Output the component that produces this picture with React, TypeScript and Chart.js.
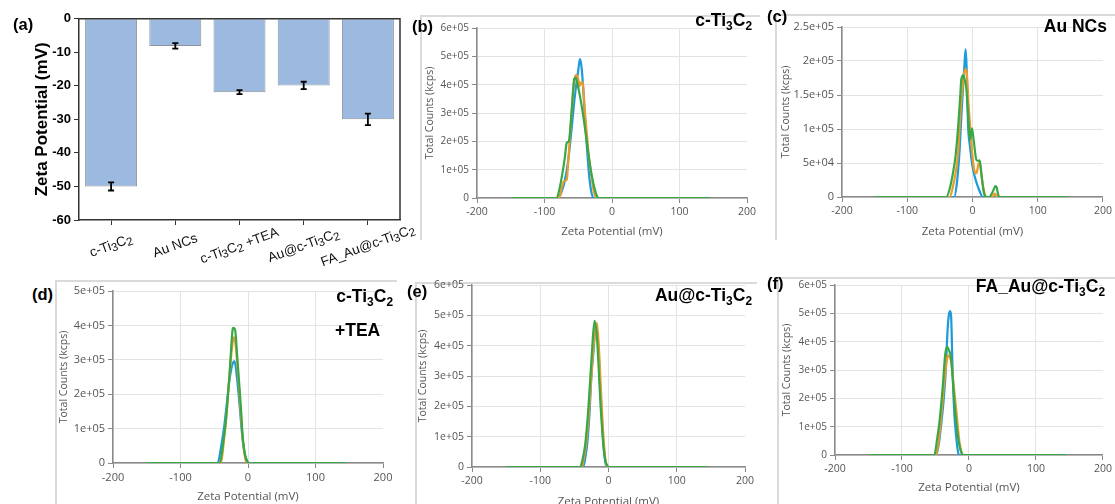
import React, { useEffect, useRef } from 'react';
import { Chart, registerables } from 'chart.js';

Chart.register(...registerables);

const ARIAL = '"Liberation Sans", Arial, Helvetica, sans-serif';
const UI = '"Open Sans", "Noto Sans", "DejaVu Sans", sans-serif';

// ---------------- (a) bar chart data ----------------
const barCategories = ['c-Ti3C2', 'Au NCs', 'c-Ti3C2 +TEA', 'Au@c-Ti3C2', 'FA_Au@c-Ti3C2'];
const barValues = [-50.0, -8.1, -21.9, -19.9, -30.0];
const barErrors = [1.2, 0.8, 0.6, 1.1, 1.7];
const barYMin = -60;
const barYMax = 0;
const barYStep = 10;

// ---------------- zeta distributions ----------------
const zetaMin = -200;
const zetaMax = 200;
const zetaStep = 100;

// (b) c-Ti3C2
const bBlueX = [-150, -80, -75, -70, -65, -60, -55, -50, -47.5, -45, -42.5, -40, -37.5, -35, -32.5, -30, -27.5, 145];
const bBlueY = [0, 0, 0.2e5, 0.6e5, 1.3e5, 2.4e5, 3.6e5, 4.5e5, 4.9e5, 4.6e5, 3.8e5, 2.8e5, 1.9e5, 1.1e5, 0.5e5, 0.15e5, 0, 0];
const bOrangeX = [-150, -78, -75, -71, -67, -65, -62, -59, -56, -53, -50, -48, -45, -43, -40, -37, -34, -30, -27, -23, 145];
const bOrangeY = [0, 0, 0.3e5, 0.6e5, 0.65e5, 1.2e5, 2.3e5, 3.3e5, 4.1e5, 4.35e5, 4.2e5, 3.95e5, 4.1e5, 4.0e5, 3.0e5, 2.2e5, 1.4e5, 0.7e5, 0.25e5, 0, 0];
const bGreenX = [-150, -82, -78, -74, -70, -67, -64, -60, -56, -54, -50, -46, -42, -38, -34, -30, -26, -22, -20, 145];
const bGreenY = [0, 0, 0.3e5, 0.8e5, 1.4e5, 1.95e5, 2.0e5, 3.0e5, 4.2e5, 4.25e5, 3.9e5, 3.4e5, 2.8e5, 2.1e5, 1.4e5, 0.8e5, 0.35e5, 0.05e5, 0, 0];

// (c) Au NCs
const cBlueX = [-150, -28, -24, -20, -17, -14, -12, -10.5, -9, -7, -4, 0, 4, 8, 12, 16, 145];
const cBlueY = [0, 0, 0.2e5, 0.65e5, 1.2e5, 1.7e5, 2.0e5, 2.17e5, 1.9e5, 1.1e5, 0.75e5, 0.45e5, 0.28e5, 0.16e5, 0.06e5, 0, 0];
const cOrangeX = [-150, -35, -30, -26, -22, -18, -14, -11, -9, -6, -3, 0, 3, 6, 9, 11, 14, 17, 21, 30, 34, 38, 145];
const cOrangeY = [0, 0, 0.15e5, 0.35e5, 0.65e5, 1.3e5, 1.75e5, 1.88e5, 1.85e5, 1.35e5, 0.95e5, 0.6e5, 0.38e5, 0.35e5, 0.48e5, 0.52e5, 0.3e5, 0.12e5, 0, 0, 0.05e5, 0, 0];
const cGreenX = [-150, -40, -35, -30, -26, -22, -19, -17, -14, -12, -9.5, -7, -5, -3.5, -1, 1, 3, 5.5, 8, 11, 13, 16, 18, 22, 26, 29, 32, 35, 37, 39, 41, 145];
const cGreenY = [0, 0, 0.12e5, 0.35e5, 0.6e5, 1.03e5, 1.45e5, 1.74e5, 1.79e5, 1.72e5, 1.6e5, 1.25e5, 0.95e5, 0.85e5, 1.01e5, 0.9e5, 0.74e5, 0.56e5, 0.53e5, 0.54e5, 0.4e5, 0.15e5, 0.04e5, 0, 0, 0.04e5, 0.1e5, 0.16e5, 0.14e5, 0.05e5, 0, 0];

// (d) c-Ti3C2 +TEA
const dBlueX = [-150, -45, -40, -35, -31, -27.5, -24, -20, -17, -13, -10, -7.5, -4, -1, 2, 145];
const dBlueY = [0, 0, 0.45e5, 1.1e5, 1.8e5, 2.4e5, 2.8e5, 2.96e5, 2.6e5, 1.8e5, 1.1e5, 0.6e5, 0.2e5, 0.05e5, 0, 0];
const dOrangeX = [-150, -40, -36, -32, -28, -24, -21, -19, -16, -13, -10, -7, -4, -1, 145];
const dOrangeY = [0, 0, 0.6e5, 1.35e5, 2.4e5, 3.3e5, 3.65e5, 3.55e5, 2.9e5, 2.1e5, 1.25e5, 0.55e5, 0.12e5, 0, 0];
const dGreenX = [-150, -42, -37, -32.5, -27.5, -23, -22, -19, -16, -13, -10, -8, -5, -2, 1, 145];
const dGreenY = [0, 0, 0.55e5, 1.3e5, 2.55e5, 3.85e5, 3.93e5, 3.86e5, 3.1e5, 2.3e5, 1.45e5, 0.8e5, 0.3e5, 0.08e5, 0, 0];

// (e) Au@c-Ti3C2
const eBlueX = [-150, -37, -34, -31, -28, -25, -22, -18.5, -15, -12, -9, -6, -3, 145];
const eBlueY = [0, 0, 0.3e5, 0.8e5, 1.7e5, 3.0e5, 3.8e5, 4.7e5, 4.0e5, 2.6e5, 1.3e5, 0.4e5, 0, 0];
const eOrangeX = [-150, -39, -36, -32, -28, -24, -20, -17, -14, -11, -8, -5, -2, 145];
const eOrangeY = [0, 0, 0.3e5, 0.9e5, 2.0e5, 3.4e5, 4.4e5, 4.74e5, 3.9e5, 2.5e5, 1.2e5, 0.35e5, 0, 0];
const eGreenX = [-150, -41.5, -38, -34, -29.3, -24.4, -20.5, -17, -14.5, -12.2, -9.5, -7.3, -4.5, -2.4, 0, 145];
const eGreenY = [0, 0, 0.25e5, 0.77e5, 2.0e5, 3.74e5, 4.82e5, 4.3e5, 3.3e5, 2.25e5, 1.3e5, 0.65e5, 0.2e5, 0.08e5, 0, 0];

// (f) FA_Au@c-Ti3C2
const fBlueX = [-150, -49, -45, -41.6, -38, -35, -32, -30, -28.2, -26.7, -24.5, -22, -19.3, -17, -15, 145];
const fBlueY = [0, 0, 0.4e5, 1.06e5, 1.9e5, 2.85e5, 4.4e5, 4.95e5, 5.08e5, 4.9e5, 3.0e5, 1.5e5, 0.7e5, 0.2e5, 0, 0];
const fOrangeX = [-150, -49, -45, -41.6, -38, -34, -31.7, -29, -26.7, -23, -19.3, -16.5, -14.3, -11.5, -8.4, 145];
const fOrangeY = [0, 0, 0.55e5, 1.3e5, 2.3e5, 3.2e5, 3.53e5, 3.45e5, 3.3e5, 2.5e5, 1.65e5, 0.95e5, 0.47e5, 0.12e5, 0, 0];
const fGreenX = [-150, -51.5, -48, -44, -39, -35.6, -32.7, -30, -26.7, -24, -21.8, -19, -16.8, -14, -11.9, -8.4, 145];
const fGreenY = [0, 0, 0.5e5, 1.18e5, 2.47e5, 3.53e5, 3.82e5, 3.7e5, 3.41e5, 2.6e5, 1.88e5, 1.15e5, 0.7e5, 0.3e5, 0.12e5, 0, 0];

const runColors = ['#1c9bd8', '#eb9a2c', '#38a845'];

// ---------------- layout (page coordinates) ----------------
type Box = { l: number; t: number; r: number; b: number };
type LinePanelCfg = {
  id: string;
  canvas: Box;
  area: Box;
  yMax: number;
  yStep: number;
  yTitleX: number;
  xTitleY: number;
  yTickSize: number;
  xTickSize: number;
  series: [number[], number[]][];
};

const linePanels: LinePanelCfg[] = [
  { id: 'b', canvas: { l: 420, t: 15, r: 762, b: 240 }, area: { l: 477, t: 28, r: 747, b: 198 }, yMax: 6e5, yStep: 1e5, yTitleX: 430, xTitleY: 232, yTickSize: 10, xTickSize: 10.5, series: [[bBlueX, bBlueY], [bOrangeX, bOrangeY], [bGreenX, bGreenY]] },
  { id: 'c', canvas: { l: 775, t: 14, r: 1115, b: 240 }, area: { l: 842, t: 27, r: 1104, b: 197 }, yMax: 2.5e5, yStep: 5e4, yTitleX: 786, xTitleY: 232, yTickSize: 11, xTickSize: 10.5, series: [[cBlueX, cBlueY], [cOrangeX, cOrangeY], [cGreenX, cGreenY]] },
  { id: 'd', canvas: { l: 55, t: 278, r: 400, b: 504 }, area: { l: 113, t: 291, r: 383, b: 463 }, yMax: 5e5, yStep: 1e5, yTitleX: 64, xTitleY: 497, yTickSize: 11, xTickSize: 11, series: [[dBlueX, dBlueY], [dOrangeX, dOrangeY], [dGreenX, dGreenY]] },
  { id: 'e', canvas: { l: 415, t: 272, r: 760, b: 512 }, area: { l: 472, t: 285, r: 745, b: 467 }, yMax: 6e5, yStep: 1e5, yTitleX: 423, xTitleY: 502, yTickSize: 10.5, xTickSize: 10.5, series: [[eBlueX, eBlueY], [eOrangeX, eOrangeY], [eGreenX, eGreenY]] },
  { id: 'f', canvas: { l: 777, t: 272, r: 1115, b: 504 }, area: { l: 835, t: 285, r: 1104, b: 455 }, yMax: 6e5, yStep: 1e5, yTitleX: 787, xTitleY: 488, yTickSize: 10, xTickSize: 10.5, series: [[fBlueX, fBlueY], [fOrangeX, fOrangeY], [fGreenX, fGreenY]] },
];

const barCanvas: Box = { l: 0, t: 0, r: 420, b: 272 };
const barArea: Box = { l: 79, t: 18.7, r: 400, b: 220 };

function expLabel(v: number): string {
  if (Math.abs(v) < 1e-9) return '0';
  const s = Number(v.toPrecision(6)).toExponential();
  const [m, e] = s.split('e');
  const sign = e[0];
  const digits = e.slice(1).padStart(2, '0');
  return `${m}e${sign}${digits}`;
}

function drawFormula(ctx: CanvasRenderingContext2D, text: string, cx: number, cy: number, angleDeg: number, size: number) {
  const runs: { t: string; sub: boolean }[] = [];
  for (let i = 0; i < text.length; i++) {
    const ch = text[i];
    const sub = /[0-9]/.test(ch) && i > 0 && /[A-Za-z]/.test(text[i - 1]);
    const last = runs[runs.length - 1];
    if (last && last.sub === sub) last.t += ch;
    else runs.push({ t: ch, sub });
  }
  const normal = `${size}px ${ARIAL}`;
  const small = `${size * 0.85}px ${ARIAL}`;
  let total = 0;
  const widths = runs.map((r) => {
    ctx.font = r.sub ? small : normal;
    const w = ctx.measureText(r.t).width;
    total += w;
    return w;
  });
  ctx.save();
  ctx.translate(cx, cy);
  ctx.rotate((-angleDeg * Math.PI) / 180);
  ctx.textBaseline = 'middle';
  ctx.textAlign = 'left';
  ctx.fillStyle = '#111';
  let x = -total / 2;
  runs.forEach((r, i) => {
    ctx.font = r.sub ? small : normal;
    ctx.fillText(r.t, x, r.sub ? size * 0.22 : 0);
    x += widths[i];
  });
  ctx.restore();
}

function BarPanel() {
  const ref = useRef<HTMLCanvasElement | null>(null);
  useEffect(() => {
    if (!ref.current) return;
    const extras = {
      id: 'barExtras',
      afterDatasetsDraw(chart: any) {
        const { ctx, chartArea: a } = chart;
        const xs = chart.scales.x;
        const ys = chart.scales.y;
        ctx.save();
        ctx.strokeStyle = '#333';
        ctx.lineWidth = 1.5;
        ctx.beginPath();
        ctx.moveTo(a.left, a.top);
        ctx.lineTo(a.right, a.top);
        ctx.lineTo(a.right, a.bottom);
        ctx.stroke();
        ctx.strokeStyle = '#000';
        ctx.lineWidth = 1.8;
        barValues.forEach((v, i) => {
          const px = xs.getPixelForValue(i);
          const y1 = ys.getPixelForValue(v + barErrors[i]);
          const y2 = ys.getPixelForValue(v - barErrors[i]);
          ctx.beginPath();
          ctx.moveTo(px, y1);
          ctx.lineTo(px, y2);
          ctx.moveTo(px - 3, y1);
          ctx.lineTo(px + 3, y1);
          ctx.moveTo(px - 3, y2);
          ctx.lineTo(px + 3, y2);
          ctx.stroke();
        });
        ctx.restore();
        barCategories.forEach((lab, i) => {
          const px = xs.getPixelForValue(i);
          drawFormula(ctx, lab, px, a.bottom + 26, 20, 13.5);
        });
      },
    };
    const yTitleSize = 17;
    const chart = new Chart(ref.current, {
      type: 'bar',
      data: {
        labels: barCategories,
        datasets: [
          {
            data: barValues,
            backgroundColor: '#9cb9e0',
            borderColor: '#8d929b',
            borderWidth: 1,
            barPercentage: 0.81,
            categoryPercentage: 1,
          },
        ],
      },
      options: {
        animation: false,
        responsive: false,
        maintainAspectRatio: false,
        events: [],
        layout: { padding: { left: 0, top: barArea.t - barCanvas.t, right: barCanvas.r - barArea.r, bottom: 0 } },
        plugins: { legend: { display: false }, tooltip: { enabled: false } },
        scales: {
          x: {
            offset: true,
            ticks: { display: false },
            grid: { drawOnChartArea: false, offset: false, tickColor: '#333', tickLength: 5 },
            border: { color: '#333', width: 1.5 },
            afterFit: (s: any) => {
              s.height = barCanvas.b - barArea.b;
            },
          },
          y: {
            min: barYMin,
            max: barYMax,
            ticks: { stepSize: barYStep, color: '#000', font: { family: ARIAL, size: 13, weight: 'bold' }, padding: 3 },
            grid: { drawOnChartArea: false, tickColor: '#333', tickLength: 5 },
            border: { color: '#333', width: 1.5 },
            title: {
              display: true,
              text: 'Zeta Potential (mV)',
              color: '#000',
              font: { family: ARIAL, size: yTitleSize, weight: 'bold' },
              padding: { top: 42 - barCanvas.l - (yTitleSize * 1.2) / 2, bottom: 0 },
            },
            afterFit: (s: any) => {
              s.width = barArea.l - barCanvas.l;
            },
          },
        },
      } as any,
      plugins: [extras],
    });
    return () => chart.destroy();
  }, []);
  const w = barCanvas.r - barCanvas.l;
  const h = barCanvas.b - barCanvas.t;
  return (
    <canvas
      ref={ref}
      width={w}
      height={h}
      style={{ position: 'absolute', left: barCanvas.l, top: barCanvas.t, width: w, height: h }}
    />
  );
}

function LinePanel({ p }: { p: LinePanelCfg }) {
  const ref = useRef<HTMLCanvasElement | null>(null);
  useEffect(() => {
    if (!ref.current) return;
    const yTitleSize = 10.5;
    const xTitleSize = 11.5;
    const datasets = p.series.map(([xs, ys], i) => ({
      data: xs.map((x, j) => ({ x, y: ys[j] })),
      borderColor: runColors[i],
      borderWidth: 2.2,
      pointRadius: 0,
      fill: false,
      cubicInterpolationMode: 'monotone',
      order: 3 - i,
    }));
    const chart = new Chart(ref.current, {
      type: 'line',
      data: { datasets },
      options: {
        animation: false,
        responsive: false,
        maintainAspectRatio: false,
        events: [],
        parsing: false,
        layout: { padding: { left: 0, top: p.area.t - p.canvas.t, right: p.canvas.r - p.area.r, bottom: 0 } },
        plugins: { legend: { display: false }, tooltip: { enabled: false } },
        scales: {
          x: {
            type: 'linear',
            min: zetaMin,
            max: zetaMax,
            ticks: { stepSize: zetaStep, color: '#555', font: { family: UI, size: p.xTickSize }, padding: 3 },
            grid: {
              color: (ctx: any) => (ctx.tick && ctx.tick.value === zetaMax ? 'rgba(0,0,0,0)' : '#e3e3e3'),
              tickColor: '#8a8a8a',
              tickLength: 5,
            },
            border: { color: '#8a8a8a', width: 1.5 },
            title: {
              display: true,
              text: 'Zeta Potential (mV)',
              color: '#555',
              font: { family: UI, size: xTitleSize },
              padding: { top: 0, bottom: p.canvas.b - p.xTitleY - (xTitleSize * 1.2) / 2 },
            },
            afterFit: (s: any) => {
              s.height = p.canvas.b - p.area.b;
            },
          },
          y: {
            type: 'linear',
            min: 0,
            max: p.yMax,
            ticks: {
              stepSize: p.yStep,
              color: '#555',
              font: { family: UI, size: p.yTickSize },
              padding: 3,
              callback: (v: any) => expLabel(Number(v)),
            },
            grid: { color: '#e3e3e3', tickColor: '#8a8a8a', tickLength: 5 },
            border: { color: '#8a8a8a', width: 1.5 },
            title: {
              display: true,
              text: 'Total Counts (kcps)',
              color: '#555',
              font: { family: UI, size: yTitleSize },
              padding: { top: p.yTitleX - p.canvas.l - (yTitleSize * 1.2) / 2, bottom: 0 },
            },
            afterFit: (s: any) => {
              s.width = p.area.l - p.canvas.l;
            },
          },
        },
      } as any,
    });
    return () => chart.destroy();
  }, [p]);
  const w = p.canvas.r - p.canvas.l;
  const h = p.canvas.b - p.canvas.t;
  return (
    <canvas
      ref={ref}
      width={w}
      height={h}
      style={{ position: 'absolute', left: p.canvas.l, top: p.canvas.t, width: w, height: h }}
    />
  );
}

const frames = [
  { l: 420, t: 15, w: 340, h: 225 },
  { l: 775, t: 14, w: 340, h: 226 },
  { l: 55, t: 280, w: 342, h: 224 },
  { l: 415, t: 282, w: 342, h: 222 },
  { l: 777, t: 277, w: 338, h: 227 },
];

const panelLetters = [
  { t: '(a)', x: 13, y: 15.5 },
  { t: '(b)', x: 412, y: 17.5 },
  { t: '(c)', x: 767, y: 7.5 },
  { t: '(d)', x: 32, y: 285.5 },
  { t: '(e)', x: 407, y: 282.5 },
  { t: '(f)', x: 767, y: 274.5 },
];

const Sub = ({ c }: { c: string }) => (
  <span style={{ fontSize: '0.68em', position: 'relative', top: '0.3em' }}>{c}</span>
);

const titleStyle = (extra: React.CSSProperties): React.CSSProperties => ({
  position: 'absolute',
  fontFamily: ARIAL,
  fontWeight: 'bold',
  fontSize: 17.5,
  lineHeight: '17.5px',
  whiteSpace: 'nowrap',
  color: '#000',
  ...extra,
});

export default function App() {
  return (
    <div
      style={{
        position: 'fixed',
        left: 0,
        top: 0,
        width: 1115,
        height: 504,
        overflow: 'hidden',
        background: '#fff',
      }}
    >
      {frames.map((f, i) => (
        <div
          key={i}
          style={{
            position: 'absolute',
            left: f.l,
            top: f.t,
            width: f.w,
            height: f.h,
            borderLeft: '2px solid #dadada',
            borderTop: '2px solid #dadada',
            boxSizing: 'border-box',
          }}
        />
      ))}
      <BarPanel />
      {linePanels.map((p) => (
        <LinePanel key={p.id} p={p} />
      ))}
      {panelLetters.map((l) => (
        <div
          key={l.t}
          style={{
            position: 'absolute',
            left: l.x,
            top: l.y,
            fontFamily: ARIAL,
            fontWeight: 'bold',
            fontSize: 16.5,
            lineHeight: '16.5px',
            color: '#000',
          }}
        >
          {l.t}
        </div>
      ))}
      <div style={titleStyle({ right: 1115 - 752, top: 12.2 })}>
        c-Ti<Sub c="3" />C<Sub c="2" />
      </div>
      <div style={titleStyle({ right: 1115 - 1107, top: 18.2 })}>Au NCs</div>
      <div style={titleStyle({ right: 1115 - 393, top: 288.2 })}>
        c-Ti<Sub c="3" />C<Sub c="2" />
      </div>
      <div style={titleStyle({ left: 335, top: 322.2 })}>+TEA</div>
      <div style={titleStyle({ right: 1115 - 752, top: 287.2 })}>
        Au@c-Ti<Sub c="3" />C<Sub c="2" />
      </div>
      <div style={titleStyle({ right: 1115 - 1105, top: 278.2 })}>
        FA_Au@c-Ti<Sub c="3" />C<Sub c="2" />
      </div>
    </div>
  );
}
